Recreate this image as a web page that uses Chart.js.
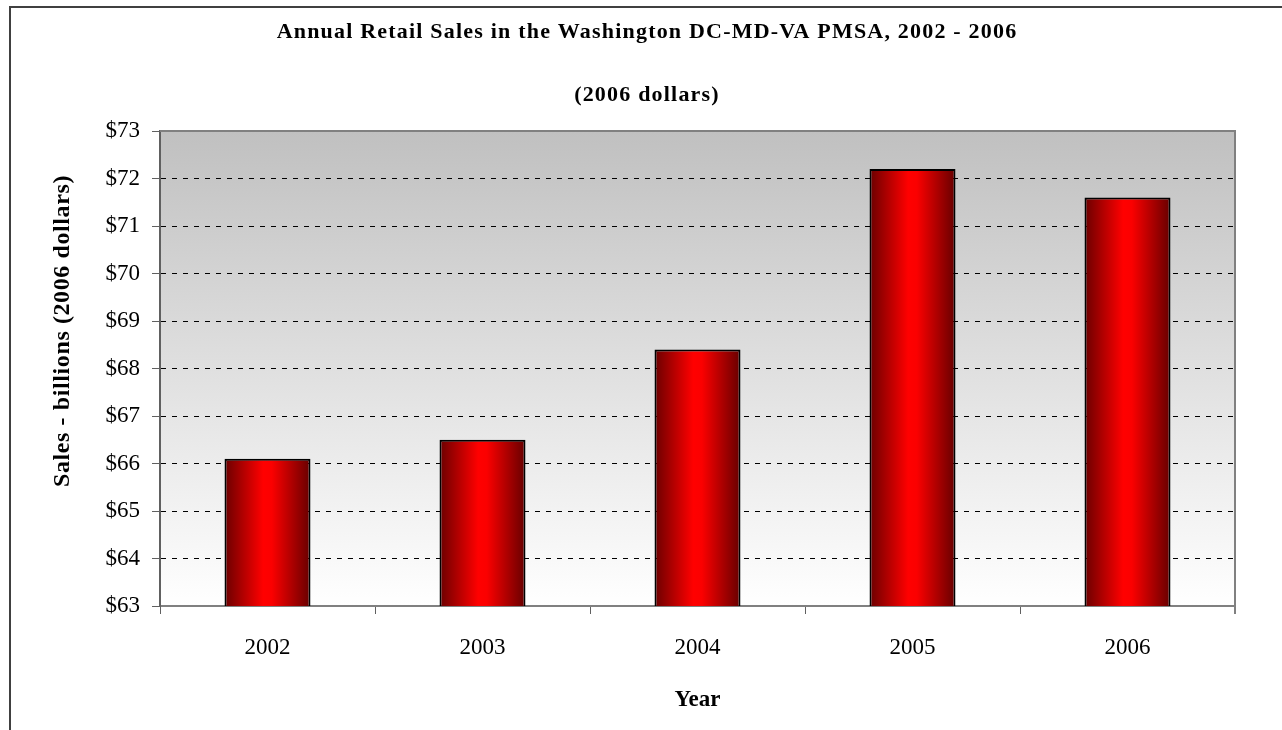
<!DOCTYPE html>
<html>
<head>
<meta charset="utf-8">
<script src="https://cdn.jsdelivr.net/npm/chart.js@4"></script>
<style>
  html, body { margin: 0; padding: 0; background: #ffffff; }
  #wrap { width: 1282px; height: 730px; }
</style>
</head>
<body>
<div id="wrap"><canvas id="chart" width="1282" height="730"></canvas></div>
<script>
// chart data
const years = ["2002", "2003", "2004", "2005", "2006"];
const sales = [66.1, 66.5, 68.4, 72.2, 71.6];

// text
const titleText = "Annual Retail Sales in the Washington DC-MD-VA PMSA, 2002 - 2006";
const subtitleText = "(2006 dollars)";
const yTitleText = "Sales - billions (2006 dollars)";
const xTitleText = "Year";

const serif = "'Liberation Serif', 'Times New Roman', serif";
const barPct = 0.4;

// horizontal red gradient for each bar, built from the x scale
function barFill(c) {
  const xs = c.chart.scales.x;
  if (!xs) return "#ff0000";
  const center = xs.getPixelForValue(c.dataIndex);
  const half = ((xs.width / years.length) * barPct) / 2;
  if (!Number.isFinite(center) || !Number.isFinite(half) || half <= 0) return "#ff0000";
  const g = c.chart.ctx.createLinearGradient(center - half, 0, center + half, 0);
  g.addColorStop(0, "#6a0000");
  g.addColorStop(0.45, "#ff0000");
  g.addColorStop(0.55, "#fb0000");
  g.addColorStop(1, "#660000");
  return g;
}

// frame, plot background and titles
const decorations = {
  id: "decorations",
  beforeDraw(chart) {
    const { ctx, chartArea: a } = chart;
    ctx.save();
    // outer border
    ctx.strokeStyle = "#404040";
    ctx.lineWidth = 2;
    ctx.strokeRect(10, 7, 1300, 760);
    // plot background gradient
    const g = ctx.createLinearGradient(0, a.top, 0, a.bottom);
    g.addColorStop(0, "#c0c0c0");
    g.addColorStop(1, "#ffffff");
    ctx.fillStyle = g;
    ctx.fillRect(a.left, a.top, a.right - a.left, a.bottom - a.top);
    ctx.restore();
  },
  afterDraw(chart) {
    const { ctx, chartArea: a } = chart;
    ctx.save();
    // top and right edges of the plot
    ctx.strokeStyle = "#808080";
    ctx.lineWidth = 2;
    ctx.beginPath();
    ctx.moveTo(a.left, a.top);
    ctx.lineTo(a.right, a.top);
    ctx.lineTo(a.right, a.bottom + 8);
    ctx.stroke();

    ctx.fillStyle = "#000000";
    ctx.textAlign = "center";
    ctx.textBaseline = "middle";
    ctx.letterSpacing = "1.2px";
    ctx.font = "bold 22px " + serif;
    ctx.fillText(titleText, 647, 32);
    ctx.fillText(subtitleText, 647, 95);

    ctx.letterSpacing = "0px";
    ctx.font = "bold 23px " + serif;
    ctx.fillText(xTitleText, (a.left + a.right) / 2, 700);

    ctx.translate(63, 331);
    ctx.rotate(-Math.PI / 2);
    ctx.letterSpacing = "0.6px";
    ctx.font = "bold 24px " + serif;
    ctx.fillText(yTitleText, 0, 0);
    ctx.restore();
  },
};

new Chart(document.getElementById("chart"), {
  type: "bar",
  data: {
    labels: years,
    datasets: [
      {
        data: sales,
        backgroundColor: barFill,
        borderColor: "#000000",
        borderWidth: 2,
        borderSkipped: false,
        categoryPercentage: 1,
        barPercentage: barPct,
      },
    ],
  },
  options: {
    responsive: false,
    animation: false,
    layout: { padding: { top: 131, right: 47, left: 0, bottom: 0 } },
    plugins: {
      legend: { display: false },
      tooltip: { enabled: false },
    },
    scales: {
      x: {
        afterFit(scale) {
          scale.height = 124;
        },
        grid: {
          offset: true,
          drawOnChartArea: false,
          drawTicks: true,
          tickLength: 8,
          color: "#606060",
          lineWidth: 1,
        },
        border: { color: "#808080", width: 2 },
        ticks: {
          color: "#000000",
          padding: 20,
          font: { family: serif, size: 23 },
        },
      },
      y: {
        min: 63,
        max: 73,
        afterFit(scale) {
          scale.width = 160;
        },
        grid: {
          color: "#000000",
          lineWidth: 1,
          tickLength: 8,
          tickColor: "#606060",
          tickBorderDash: [1, 0],
        },
        border: { color: "#606060", width: 2, dash: [5, 6] },
        ticks: {
          stepSize: 1,
          color: "#000000",
          padding: 12,
          font: { family: serif, size: 23 },
          callback: (v) => "$" + v,
        },
      },
    },
  },
  plugins: [decorations],
});
</script>
</body>
</html>
